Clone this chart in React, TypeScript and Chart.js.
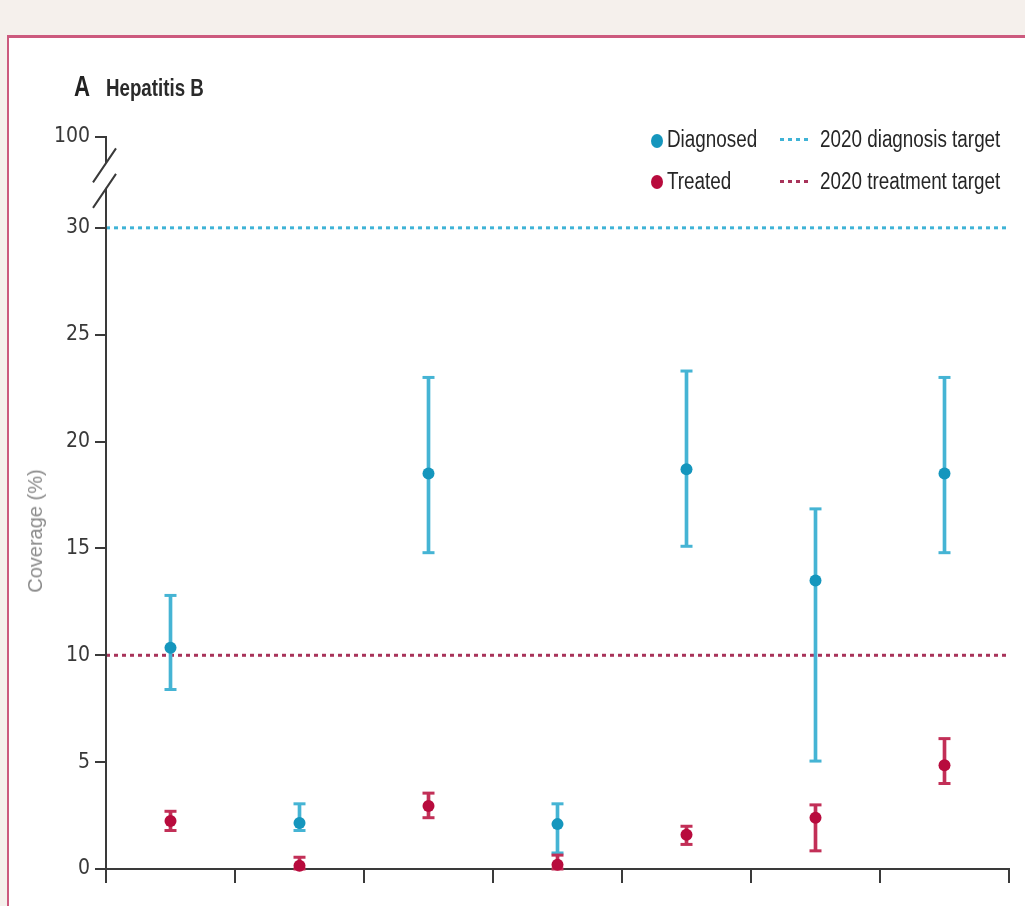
import React, { useEffect, useLayoutEffect, useRef } from 'react';
import { Chart, registerables } from 'chart.js';

Chart.register(...registerables);

// ---------- data ----------
const countries = ['Country 1', 'Country 2', 'Country 3', 'Country 4', 'Country 5', 'Country 6', 'Country 7'];
const diagnosed = [10.35, 2.15, 18.5, 2.1, 18.7, 13.5, 18.5];
const diagnosedLow = [8.4, 1.8, 14.8, 0.75, 15.1, 5.05, 14.8];
const diagnosedHigh = [12.8, 3.05, 23.0, 3.05, 23.3, 16.85, 23.0];
const treated = [2.25, 0.15, 2.95, 0.2, 1.6, 2.4, 4.85];
const treatedLow = [1.8, 0.0, 2.4, 0.0, 1.15, 0.85, 4.0];
const treatedHigh = [2.7, 0.55, 3.55, 0.65, 2.0, 3.0, 6.1];
const diagnosisTarget = 30;
const treatmentTarget = 10;
const yTickValues = [0, 5, 10, 15, 20, 25, 30];
const breakTickValue = 34.25; // where the "100" tick sits above the axis break
const breakTickLabel = '100';

// ---------- style ----------
const SANS = "'Liberation Sans', Arial, sans-serif";
const TICK_FAMILY = "'DejaVu Sans Condensed', 'Liberation Sans', sans-serif";
const BLUE_POINT = '#1596bd';
const BLUE_BAR = '#45b4d4';
const BLUE_TARGET = '#3fb3d6';
const RED_POINT = '#b80b3d';
const RED_BAR = '#c22f57';
const RED_TARGET = '#a8335a';
const AXIS = '#3a3a3a';
const PANEL_BORDER = '#cc5a7e';
const PAGE_BG = '#f5f0ec';

const brokenAxis = {
  id: 'brokenAxis',
  afterDraw(chart: any) {
    const { ctx, chartArea, scales } = chart;
    const y = scales.y;
    const x = chartArea.left;
    const y0 = y.getPixelForValue(0);
    const yTop = y.getPixelForValue(breakTickValue);
    const y30 = y.getPixelForValue(30);
    const gap = y30 - yTop;
    const s1 = yTop + gap * 0.28;
    const s2 = yTop + gap * 0.56;
    ctx.save();
    ctx.strokeStyle = AXIS;
    ctx.lineWidth = 2;
    ctx.beginPath();
    ctx.moveTo(x, y0 + 1);
    ctx.lineTo(x, s2);
    ctx.moveTo(x, s1);
    ctx.lineTo(x, yTop - 1);
    ctx.moveTo(x + 10, s1 - 14);
    ctx.lineTo(x - 13, s1 + 20);
    ctx.moveTo(x + 10, s2 - 14);
    ctx.lineTo(x - 13, s2 + 20);
    ctx.stroke();
    ctx.restore();
  },
};

function ChartCanvas() {
  const ref = useRef<HTMLCanvasElement | null>(null);
  useEffect(() => {
    if (!ref.current) return;
    const caps = (hi: number[], lo: number[]) =>
      countries.flatMap((c, i) => [
        { x: c, y: hi[i] },
        { x: c, y: lo[i] },
      ]);
    const chart = new Chart(ref.current, {
      type: 'line',
      data: {
        labels: countries,
        datasets: [
          {
            type: 'line',
            label: '2020 diagnosis target',
            data: [
              { x: 0, y: diagnosisTarget },
              { x: 1, y: diagnosisTarget },
            ],
            xAxisID: 'xt',
            borderColor: BLUE_TARGET,
            borderWidth: 3,
            borderDash: [4, 4],
            pointRadius: 0,
            order: 10,
          },
          {
            type: 'line',
            label: '2020 treatment target',
            data: [
              { x: 0, y: treatmentTarget },
              { x: 1, y: treatmentTarget },
            ],
            xAxisID: 'xt',
            borderColor: RED_TARGET,
            borderWidth: 3,
            borderDash: [4, 4],
            pointRadius: 0,
            order: 10,
          },
          {
            type: 'bar',
            label: 'Diagnosed range',
            data: countries.map((_, i) => [diagnosedLow[i], diagnosedHigh[i]]),
            backgroundColor: BLUE_BAR,
            barThickness: 3,
            grouped: false,
            order: 6,
          },
          {
            type: 'bar',
            label: 'Treated range',
            data: countries.map((_, i) => [treatedLow[i], treatedHigh[i]]),
            backgroundColor: RED_BAR,
            barThickness: 3,
            grouped: false,
            order: 5,
          },
          {
            type: 'line',
            label: 'Diagnosed caps',
            data: caps(diagnosedHigh, diagnosedLow),
            showLine: false,
            pointStyle: 'line',
            pointRadius: 6,
            pointBorderWidth: 3,
            pointBorderColor: BLUE_BAR,
            pointBackgroundColor: BLUE_BAR,
            clip: false,
            order: 4,
          },
          {
            type: 'line',
            label: 'Treated caps',
            data: caps(treatedHigh, treatedLow),
            showLine: false,
            pointStyle: 'line',
            pointRadius: 6,
            pointBorderWidth: 3,
            pointBorderColor: RED_BAR,
            pointBackgroundColor: RED_BAR,
            clip: false,
            order: 3,
          },
          {
            type: 'line',
            label: 'Diagnosed',
            data: diagnosed,
            showLine: false,
            pointRadius: 6,
            pointBorderWidth: 0,
            pointBackgroundColor: BLUE_POINT,
            pointBorderColor: BLUE_POINT,
            clip: false,
            order: 2,
          },
          {
            type: 'line',
            label: 'Treated',
            data: treated,
            showLine: false,
            pointRadius: 6,
            pointBorderWidth: 0,
            pointBackgroundColor: RED_POINT,
            pointBorderColor: RED_POINT,
            clip: false,
            order: 1,
          },
        ],
      },
      options: {
        responsive: false,
        animation: false,
        devicePixelRatio: 1,
        events: [],
        layout: { padding: { left: 0, top: 137, right: 16, bottom: 0 } },
        plugins: {
          legend: { display: false },
          tooltip: { enabled: false },
          title: { display: false },
        },
        scales: {
          x: {
            type: 'category',
            offset: true,
            grid: {
              offset: true,
              drawOnChartArea: false,
              drawTicks: true,
              tickLength: 14,
              color: AXIS,
              lineWidth: 2,
            },
            border: { display: true, color: AXIS, width: 2 },
            ticks: { display: false },
            afterFit: (scale: any) => {
              scale.height = 37;
            },
          },
          xt: {
            type: 'linear',
            min: 0,
            max: 1,
            display: false,
          },
          y: {
            type: 'linear',
            min: 0,
            max: breakTickValue,
            grid: {
              drawOnChartArea: false,
              drawTicks: true,
              tickLength: 11,
              color: AXIS,
              lineWidth: 2,
            },
            border: { display: false },
            ticks: {
              autoSkip: false,
              padding: 5,
              color: '#383838',
              font: { family: TICK_FAMILY, size: 21 },
              callback: (v: any) => (v === breakTickValue ? breakTickLabel : String(v)),
            },
            afterBuildTicks: (scale: any) => {
              scale.ticks = [...yTickValues, breakTickValue].map((v) => ({ value: v }));
            },
            afterFit: (scale: any) => {
              scale.width = 106;
            },
          },
        },
      },
      plugins: [brokenAxis],
    } as any);
    return () => chart.destroy();
  }, []);
  return (
    <canvas
      ref={ref}
      width={1025}
      height={906}
      style={{ position: 'absolute', left: 0, top: 0, width: 1025, height: 906 }}
    />
  );
}

const dotted = (color: string) =>
  `repeating-linear-gradient(to right, ${color} 0px, ${color} 4px, transparent 4px, transparent 8px)`;

// narrow text: Liberation Sans compressed horizontally (Liberation Sans Narrow metrics)
function NarrowText(props: {
  left: number;
  top: number;
  size: number;
  scale: number;
  bold?: boolean;
  color?: string;
  children: React.ReactNode;
}) {
  return (
    <div
      style={{
        position: 'absolute',
        left: props.left,
        top: props.top,
        fontFamily: SANS,
        fontSize: props.size,
        fontWeight: props.bold ? 'bold' : 'normal',
        lineHeight: 1,
        whiteSpace: 'nowrap',
        color: props.color || '#262626',
        transform: `scaleX(${props.scale})`,
        transformOrigin: '0 0',
      }}
    >
      {props.children}
    </div>
  );
}

export default function App() {
  useLayoutEffect(() => {
    const prevMargin = document.body.style.margin;
    const prevBg = document.body.style.background;
    const prevHtmlBg = document.documentElement.style.background;
    document.body.style.margin = '0';
    document.body.style.background = PAGE_BG;
    document.documentElement.style.background = PAGE_BG;
    return () => {
      document.body.style.margin = prevMargin;
      document.body.style.background = prevBg;
      document.documentElement.style.background = prevHtmlBg;
    };
  }, []);
  return (
    <div
      style={{
        position: 'relative',
        width: 1025,
        height: 906,
        overflow: 'hidden',
        background: PAGE_BG,
      }}
    >
      <div
        style={{
          position: 'absolute',
          left: 7,
          top: 35,
          right: -20,
          bottom: -20,
          background: '#ffffff',
          borderLeft: `2px solid ${PANEL_BORDER}`,
          borderTop: `3px solid ${PANEL_BORDER}`,
        }}
      />
      <ChartCanvas />
      {/* panel title */}
      <NarrowText left={74} top={71} size={30} scale={0.74} bold color="#222">
        A
      </NarrowText>
      <NarrowText left={106} top={76} size={24} scale={0.78} bold color="#2a2a2a">
        Hepatitis B
      </NarrowText>
      {/* y axis title */}
      <div
        style={{
          position: 'absolute',
          left: 35,
          top: 531,
          transform: 'translate(-50%, -50%) rotate(-90deg)',
          fontFamily: SANS,
          fontSize: 20,
          lineHeight: 1,
          color: '#8a8a8a',
          whiteSpace: 'nowrap',
        }}
      >
        Coverage (%)
      </div>
      {/* legend */}
      <div
        style={{ position: 'absolute', left: 651, top: 134, width: 12, height: 14, borderRadius: '50%', background: BLUE_POINT }}
      />
      <NarrowText left={667} top={128} size={23} scale={0.82}>
        Diagnosed
      </NarrowText>
      <div style={{ position: 'absolute', left: 780, top: 138, width: 32, height: 3, background: dotted(BLUE_TARGET) }} />
      <NarrowText left={820} top={128} size={23} scale={0.82}>
        2020 diagnosis target
      </NarrowText>
      <div
        style={{ position: 'absolute', left: 651, top: 175, width: 12, height: 14, borderRadius: '50%', background: RED_POINT }}
      />
      <NarrowText left={667} top={170} size={23} scale={0.82}>
        Treated
      </NarrowText>
      <div style={{ position: 'absolute', left: 780, top: 180, width: 32, height: 3, background: dotted(RED_TARGET) }} />
      <NarrowText left={820} top={170} size={23} scale={0.82}>
        2020 treatment target
      </NarrowText>
    </div>
  );
}
